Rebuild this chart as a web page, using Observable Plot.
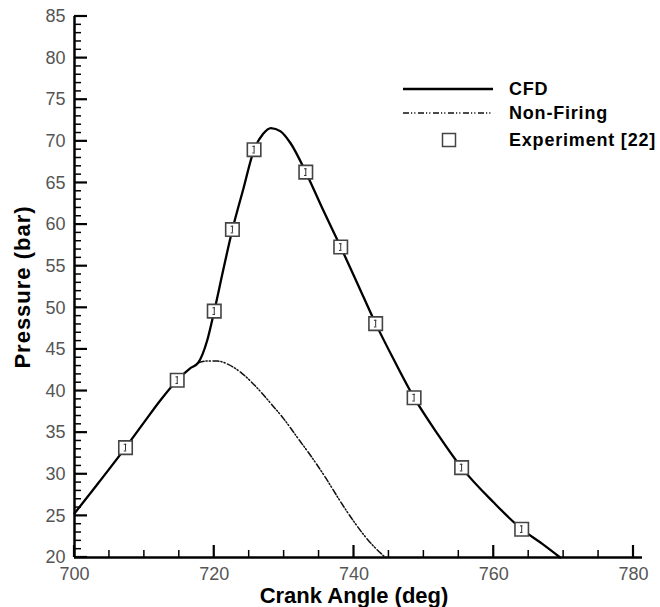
<!DOCTYPE html>
<html>
<head>
<meta charset="utf-8">
<script src="https://cdn.jsdelivr.net/npm/d3@7"></script>
<script src="https://cdn.jsdelivr.net/npm/@observablehq/plot@0.6"></script>
<style>
  body { margin: 0; background: #fff; }
  svg { display: block; }
</style>
</head>
<body>
<div id="chart"></div>
<script>
// CFD in-cylinder pressure trace
const cfdAngle    = [700, 703, 707.3, 710, 712.3, 714.7, 716.5, 717.7, 719, 720, 721.3, 722.6, 724.2, 725.7, 727, 728.1, 729.5, 730.9, 733.1, 735.5, 738.1, 740.5, 743.1, 745.8, 748.6, 752, 755.4, 760, 764, 767, 769.5];
const cfdPressure = [25.3, 28.5, 33.2, 36.3, 38.9, 41.3, 42.7, 43.4, 46.1, 49.6, 54.6, 59.4, 64.4, 69.0, 70.9, 71.6, 71.2, 69.8, 66.3, 61.9, 57.3, 52.9, 48.1, 43.6, 39.2, 34.8, 30.8, 26.6, 23.4, 21.6, 20];

// Motored (non-firing) trace, from where it leaves the CFD curve
const nfAngle    = [717.7, 719, 720.5, 722, 724, 726, 728, 730, 732, 734, 736, 738, 740, 742, 744.5];
const nfPressure = [43.4, 43.6, 43.6, 43.2, 42.1, 40.5, 38.6, 36.6, 34.3, 32.0, 29.5, 26.8, 24.3, 22.1, 20];

// Measured pressure with error bars
const expAngle    = [707.3, 714.7, 720.0, 722.6, 725.7, 733.1, 738.1, 743.1, 748.6, 755.4, 764.0];
const expPressure = [33.2, 41.3, 49.6, 59.4, 69.0, 66.3, 57.3, 48.1, 39.2, 30.8, 23.4];
const expError    = 0.4;

// Axis ticks
const xMajor = [700, 720, 740, 760, 780];
const xMinor = d3.range(705, 780, 5).filter(v => v % 20 !== 0);
const yMajor = [20, 25, 30, 35, 40, 45, 50, 55, 60, 65, 70, 75, 80, 85];
const yMinor = d3.range(21, 85).filter(v => v % 5 !== 0);

const legendLabels = ["CFD", "Non-Firing", "Experiment [22]"];
const xLabel = "Crank Angle (deg)";
const yLabel = "Pressure (bar)";

const cfd = cfdAngle.map((x, i) => ({x, y: cfdPressure[i]}));
const nonFiring = nfAngle.map((x, i) => ({x, y: nfPressure[i]}));
const experiment = expAngle.map((x, i) => ({x, y: expPressure[i]}));

const font = "'Liberation Sans', Arial, sans-serif";
const nfDash = "6,2,1.2,2,1.2,2.6";

const chart = Plot.plot({
  width: 660,
  height: 607,
  marginLeft: 74,
  marginRight: 27,
  marginTop: 16,
  marginBottom: 50,
  style: {fontFamily: font, fontSize: "18px", background: "#fff"},
  x: {domain: [700, 780], axis: null},
  y: {domain: [20, 85], axis: null},
  marks: [
    // tick labels
    Plot.axisX(xMajor, {tickSize: 0, tickPadding: 10, fill: "#555", fontSize: 18, label: null}),
    Plot.axisY(yMajor, {tickSize: 0, tickPadding: 9, fill: "#555", fontSize: 18, label: null}),
    // curves
    Plot.line(nonFiring, {x: "x", y: "y", curve: "monotone-x", stroke: "#111", strokeWidth: 1.5, strokeDasharray: nfDash}),
    Plot.line(cfd, {x: "x", y: "y", curve: "monotone-x", stroke: "#000", strokeWidth: 2.3}),
    // experimental points
    Plot.dot(experiment, {x: "x", y: "y", symbol: "square", r: 7.6, fill: "#fff", stroke: "#444", strokeWidth: 1.6}),
    Plot.ruleX(experiment, {x: "x", y1: d => d.y - expError, y2: d => d.y + expError, stroke: "#333", strokeWidth: 1}),
    Plot.ruleY(experiment, {y: d => d.y + expError, x1: d => d.x - 0.18, x2: d => d.x + 0.18, stroke: "#333", strokeWidth: 1}),
    Plot.ruleY(experiment, {y: d => d.y - expError, x1: d => d.x - 0.18, x2: d => d.x + 0.18, stroke: "#333", strokeWidth: 1}),
    // axis lines
    Plot.ruleX([700], {stroke: "#000", strokeWidth: 2.5}),
    Plot.ruleY([20], {stroke: "#000", strokeWidth: 2.5, insetRight: -9}),
    // axis titles
    Plot.text([xLabel], {frameAnchor: "bottom", dy: 38, lineAnchor: "middle", fontSize: 22, fontWeight: "bold", fill: "#000", text: d => d}),
    Plot.text([yLabel], {frameAnchor: "left", dx: -52, rotate: -90, textAnchor: "middle", lineAnchor: "middle", fontSize: 22, fontWeight: "bold", fill: "#000", text: d => d})
  ]
});

const svg = d3.select(chart);
svg.selectAll("text").filter(function() { return this.textContent === yLabel; }).attr("letter-spacing", 1);

// Inward-pointing ticks, placed with the chart's own scales
const sx = chart.scale("x"), sy = chart.scale("y");
const x0 = sx.apply(700), y0 = sy.apply(20);
const ticks = svg.append("g").attr("stroke", "#000");
const addYTicks = (values, len, sw) => values.forEach(v => {
  ticks.append("line").attr("x1", x0).attr("x2", x0 + len)
    .attr("y1", sy.apply(v)).attr("y2", sy.apply(v)).attr("stroke-width", sw);
});
const addXTicks = (values, len, sw) => values.forEach(v => {
  ticks.append("line").attr("x1", sx.apply(v)).attr("x2", sx.apply(v))
    .attr("y1", y0).attr("y2", y0 - len).attr("stroke-width", sw);
});
addYTicks(yMajor, 13, 2.2);
addYTicks(yMinor, 7, 1.5);
addXTicks(xMajor, 12, 2.2);
addXTicks(xMinor, 7, 1.5);

// Legend, top right of the plot area
const legend = svg.append("g")
  .attr("font-family", font)
  .attr("font-size", 18)
  .attr("font-weight", "bold")
  .attr("letter-spacing", 0.8)
  .attr("text-anchor", "start");
legend.append("line").attr("x1", 403).attr("x2", 493).attr("y1", 89).attr("y2", 89)
  .attr("stroke", "#000").attr("stroke-width", 2.3);
legend.append("line").attr("x1", 403).attr("x2", 493).attr("y1", 113).attr("y2", 113)
  .attr("stroke", "#111").attr("stroke-width", 1.5).attr("stroke-dasharray", nfDash);
legend.append("rect").attr("x", 442.5).attr("y", 133.5).attr("width", 13).attr("height", 13)
  .attr("fill", "#fff").attr("stroke", "#444").attr("stroke-width", 1.5);
[89, 113, 140].forEach((y, i) => {
  legend.append("text").attr("x", 509).attr("y", y).attr("dy", "0.35em")
    .attr("fill", "#000").text(legendLabels[i]);
});

document.getElementById("chart").appendChild(chart);
</script>
</body>
</html>
